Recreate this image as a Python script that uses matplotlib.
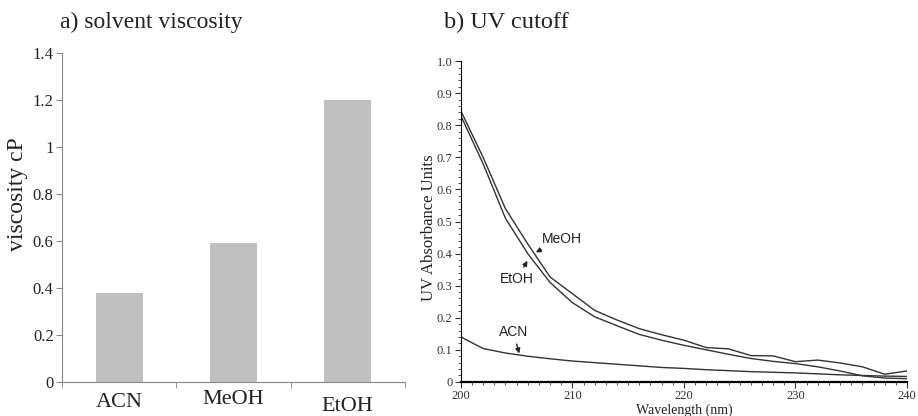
import numpy as np
import matplotlib.pyplot as plt
from matplotlib.ticker import MultipleLocator, FuncFormatter

plt.rcParams['font.family'] = ['Liberation Serif', 'DejaVu Serif']

# a) viscosity data
solvents = ['ACN', 'MeOH', 'EtOH']
viscosity = [0.38, 0.59, 1.20]

# b) UV absorbance data
wavelength = [200, 202, 204, 206, 208, 210, 212, 214, 216, 218, 220,
              222, 224, 226, 228, 230, 232, 234, 236, 238, 240]
meoh = [0.845, 0.70, 0.54, 0.43, 0.327, 0.275, 0.223, 0.193, 0.166, 0.147, 0.13,
        0.107, 0.103, 0.082, 0.081, 0.063, 0.068, 0.059, 0.047, 0.024, 0.034]
etoh = [0.83, 0.68, 0.51, 0.40, 0.31, 0.247, 0.203, 0.175, 0.148, 0.13, 0.114,
        0.10, 0.086, 0.073, 0.064, 0.057, 0.047, 0.034, 0.019, 0.012, 0.010]
acn = [0.14, 0.104, 0.09, 0.08, 0.072, 0.065, 0.06, 0.055, 0.05, 0.045, 0.042,
       0.038, 0.035, 0.032, 0.03, 0.028, 0.025, 0.022, 0.02, 0.018, 0.017]

fig = plt.figure(figsize=(9.18, 4.16), dpi=100)
txt = '#222222'

# ---- left panel
ax1 = fig.add_axes([0.0675, 0.082, 0.3735, 0.791])
x = np.arange(len(solvents))
ax1.bar(x, viscosity, width=0.41, color='#c0c0c0')
ax1.set_xlim(-0.5, 2.5)
ax1.set_ylim(0, 1.4)
ax1.set_yticks(np.arange(0, 1.41, 0.2))
ax1.yaxis.set_major_formatter(FuncFormatter(lambda v, p: '%g' % round(v, 1)))
ax1.set_xticks(x)
ax1.set_xticklabels(solvents, fontsize=16, color=txt)
ax1.set_xticks([-0.5, 0.5, 1.5, 2.5], minor=True)
ax1.tick_params(axis='x', which='major', length=0, pad=8)
ax1.tick_params(axis='x', which='minor', length=4, color='#888888')
ax1.tick_params(axis='y', labelsize=12, colors=txt, length=4, color='#888888', pad=2)
ax1.xaxis.get_major_ticks()[1].set_pad(6)
ax1.xaxis.get_major_ticks()[2].set_pad(11)
for s in ['top', 'right']:
    ax1.spines[s].set_visible(False)
for s in ['left', 'bottom']:
    ax1.spines[s].set_color('#888888')
ax1.set_ylabel('viscosity cP', fontsize=17, color=txt)
ax1.yaxis.set_label_coords(-0.1, 0.57)
fig.text(0.065, 0.945, 'a) solvent viscosity', fontsize=17, color=txt, va='center')

# ---- right panel
ax2 = fig.add_axes([0.502, 0.082, 0.486, 0.771])
ax2.plot(wavelength, meoh, color='#333333', lw=1)
ax2.plot(wavelength, etoh, color='#333333', lw=1)
ax2.plot(wavelength, acn, color='#333333', lw=1)
ax2.set_xlim(200, 240)
ax2.set_ylim(0, 1.0)
ax2.set_xticks([200, 210, 220, 230, 240])
ax2.set_yticks(np.arange(0, 1.01, 0.1))
ax2.yaxis.set_major_formatter(FuncFormatter(lambda v, p: '0' if v == 0 else '%.1f' % v))
ax2.xaxis.set_minor_locator(MultipleLocator(1))
ax2.yaxis.set_minor_locator(MultipleLocator(0.02))
ax2.tick_params(which='both', labelsize=9, colors='#333333', direction='out')
ax2.tick_params(which='major', length=4, pad=2)
ax2.tick_params(which='minor', length=2)
for s in ['top', 'right']:
    ax2.spines[s].set_visible(False)
ax2.spines['bottom'].set_linewidth(1.6)
ax2.set_ylabel('UV Absorbance Units', fontsize=12, color=txt)
ax2.yaxis.set_label_coords(-0.053, 0.48)
ax2.set_xlabel('Wavelength (nm)', fontsize=10, color=txt, labelpad=1)
fig.text(0.484, 0.945, 'b) UV cutoff', fontsize=17.5, color=txt, va='center')

kw = dict(fontsize=10, family='Liberation Sans', color=txt,
          arrowprops=dict(arrowstyle='-|>', color='#222222', lw=1, mutation_scale=7))
ax2.annotate('MeOH', xy=(206.5, 0.40), xytext=(207.3, 0.447), ha='left', va='center', **kw)
ax2.annotate('EtOH', xy=(206.1, 0.385), xytext=(205.0, 0.32), ha='center', va='center', **kw)
ax2.annotate('ACN', xy=(205.3, 0.08), xytext=(204.7, 0.157), ha='center', va='center', **kw)

fig.savefig('out.png', dpi=100)
